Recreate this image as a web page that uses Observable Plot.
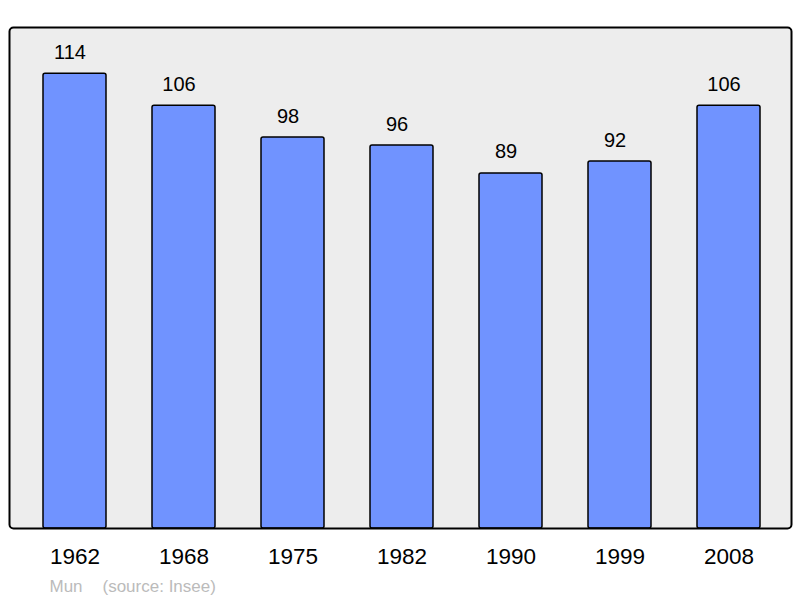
<!DOCTYPE html>
<html><head><meta charset="utf-8">
<script src="https://cdn.jsdelivr.net/npm/d3@7"></script>
<script src="https://cdn.jsdelivr.net/npm/@observablehq/plot@0.6"></script>
<style>body{margin:0;background:#fff;} svg{display:block;font-family:"Liberation Sans",Arial,sans-serif;}</style>
</head><body><div id="chart"></div>
<script>
const years = ["1962","1968","1975","1982","1990","1999","2008"];
const population = [114,106,98,96,89,92,106];
const commune = ["Mun"];
const source = ["(source: Insee)"];
const data = years.map((y,i)=>({year:y, value:population[i]}));

const chart = Plot.plot({
  width: 800, height: 598,
  marginTop: 27, marginBottom: 70, marginLeft: 9, marginRight: 9,
  style: {fontFamily: '"Liberation Sans", Arial, sans-serif', background: "#fff"},
  x: {domain: years, range: [18.3, 784.8], paddingInner: 0.424, paddingOuter: 0.212, label: null},
  y: {domain: [0, 125.6], axis: null},
  marks: [
    Plot.frame({fill: "#ededed", stroke: "none", rx: 4}),
    Plot.barY(data, {x: "year", y: "value", fill: "#7093ff", stroke: "#000", strokeWidth: 1.5, rx: 2}),
    Plot.text(data, {x: "year", y: "value", text: d => String(d.value), lineAnchor: "bottom", dx: -5, dy: -15, fontSize: 20, fill: "#000"}),
    Plot.frame({stroke: "#000", strokeWidth: 2, rx: 4}),
    Plot.axisX({tickSize: 0, tickPadding: 20, fontSize: 22.5, fill: "#000", label: null}),
    Plot.text(commune, {frameAnchor: "bottom-left", text: d => d, dx: 40, dy: 63, fontSize: 17, fill: "#bbb", textAnchor: "start", lineAnchor: "bottom"}),
    Plot.text(source, {frameAnchor: "bottom-left", text: d => d, dx: 93, dy: 63, fontSize: 17, fill: "#bbb", textAnchor: "start", lineAnchor: "bottom"})
  ]
});
document.getElementById("chart").appendChild(chart);
</script></body></html>
